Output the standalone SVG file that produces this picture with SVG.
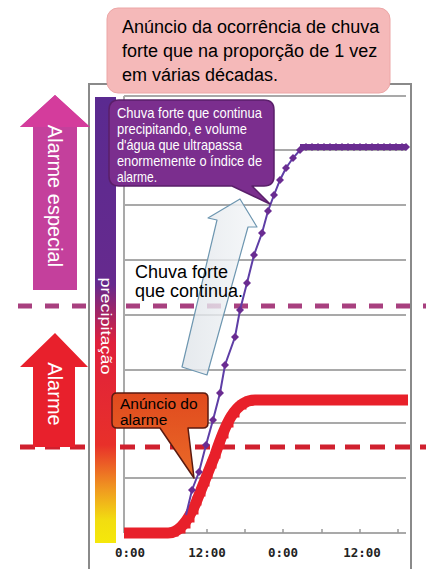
<svg xmlns="http://www.w3.org/2000/svg" width="430" height="569" viewBox="0 0 430 569">
<defs>
<linearGradient id="precipGrad" x1="0" y1="97" x2="0" y2="543" gradientUnits="userSpaceOnUse">
<stop offset="0" stop-color="#5a2a90"/>
<stop offset="0.42" stop-color="#662a8e"/>
<stop offset="0.55" stop-color="#e0203c"/>
<stop offset="0.78" stop-color="#e8302a"/>
<stop offset="0.88" stop-color="#f09a20"/>
<stop offset="0.95" stop-color="#f2de10"/>
<stop offset="1" stop-color="#f5e80a"/>
</linearGradient>
<linearGradient id="grayArrowGrad" x1="0" y1="0" x2="1" y2="0">
<stop offset="0" stop-color="#dfe4e9"/>
<stop offset="1" stop-color="#f4f6f8"/>
</linearGradient>
<linearGradient id="orangeGrad" x1="0" y1="0" x2="0" y2="1">
<stop offset="0" stop-color="#e04a1e"/>
<stop offset="1" stop-color="#ea6a28"/>
</linearGradient>
<g id="dia"><path d="M0,-4 L4,0 L0,4 L-4,0 Z" fill="#6a2c91"/></g>
<rect id="sq" x="-4.5" y="-4.5" width="9" height="9" fill="#e8202a"/>
</defs>
<style>
.grid{stroke:#a9a9a9;stroke-width:2;fill:none}
.frame{stroke:#8a8a8a;stroke-width:2;fill:none}
.axis{font-family:"DejaVu Sans Mono","Liberation Mono",monospace;font-size:12.5px;font-weight:bold;fill:#222;text-anchor:middle}
.wt{font-family:"Liberation Sans",Arial,sans-serif;fill:#fff}
.bk{font-family:"Liberation Sans",Arial,sans-serif;fill:#000}
</style>
<rect width="430" height="569" fill="#fff"/>

<g id="chart-frame">
<path class="frame" d="M89,569 V84 H411 V569"/>
<path class="grid" d="M124,96 V533" stroke="#b0b0b0"/>
<path class="grid" d="M124,96 H406 M124,150 H406 M124,205 H406 M124,260 H406 M124,315 H406 M124,370 H406 M124,423 H406 M124,478 H406 M124,533 H406"/>
<path d="M168,533 v-4 M207,533 v-4 M245,533 v-4 M283,533 v-4 M322,533 v-4 M360,533 v-4 M398,533 v-4" stroke="#999" stroke-width="1.5"/>
<text class="axis" x="130" y="557">0:00</text>
<text class="axis" x="207" y="557">12:00</text>
<text class="axis" x="283" y="557">0:00</text>
<text class="axis" x="362" y="557">12:00</text>
</g>

<g id="threshold-lines">
<path d="M18,306 H426" stroke="#a8407f" stroke-width="5" stroke-dasharray="14 13"/>
<path d="M20,447 H426" stroke="#d0202e" stroke-width="5" stroke-dasharray="15 10"/>
</g>

<g id="precipitation-bar">
<rect x="95" y="97" width="21" height="446" fill="url(#precipGrad)"/>
<text class="wt" transform="translate(106,326) rotate(90)" text-anchor="middle" dy="0.35em" font-size="15" textLength="97" lengthAdjust="spacingAndGlyphs">precipitação</text>
</g>

<g id="alarme-especial-arrow">
<path d="M55,95 L90,127 L77,127 V290 H33 V127 L20,127 Z" fill="#c4409c"/>
<path d="M55,95 L90,127 L20,127 Z" fill="#d43c9c"/>
<text class="wt" transform="translate(55,196) rotate(90)" text-anchor="middle" dy="0.35em" font-size="20">Alarme especial</text>
</g>

<g id="alarme-arrow">
<path d="M55,333 L88,367 L75,367 V447 H33 V367 L20,367 Z" fill="#e8202c"/>
<text class="wt" transform="translate(55,394) rotate(90)" text-anchor="middle" dy="0.35em" font-size="20">Alarme</text>
</g>

<g id="connectors">
<g id="red-curve">
<path d="M124,533 L168,533 C180,533 188,520 195,505 L215,455 C225,425 235,400 255,400 L408,400" fill="none" stroke="#e8202a" stroke-width="11"/>
<use href="#sq" x="174" y="532"/><use href="#sq" x="181" y="529"/><use href="#sq" x="186" y="524"/><use href="#sq" x="190" y="518"/><use href="#sq" x="194" y="510"/><use href="#sq" x="197" y="501"/><use href="#sq" x="201" y="492"/><use href="#sq" x="205" y="482"/><use href="#sq" x="208" y="474"/><use href="#sq" x="212" y="464"/><use href="#sq" x="216" y="454"/><use href="#sq" x="220" y="444"/><use href="#sq" x="224" y="434"/><use href="#sq" x="229" y="423"/><use href="#sq" x="235" y="413"/><use href="#sq" x="242" y="405"/><use href="#sq" x="249" y="401"/>
</g>
<g id="purple-curve">
<polyline points="186,515 192,490 199,472 206,445 213,420 220,393 225,365 235,337 240,310 247,283 254,255 262,233 268,211 274,195 280,180 286,168 293,158 300,150 306,147 406,147" fill="none" stroke="#5e3ea6" stroke-width="2"/>
<path d="M300,147 H406" stroke="#6a2c91" stroke-width="6"/>
<use href="#dia" x="192" y="490"/><use href="#dia" x="199" y="472"/><use href="#dia" x="206" y="445"/><use href="#dia" x="213" y="420"/><use href="#dia" x="220" y="393"/><use href="#dia" x="225" y="365"/><use href="#dia" x="235" y="337"/><use href="#dia" x="240" y="310"/><use href="#dia" x="247" y="283"/><use href="#dia" x="254" y="255"/><use href="#dia" x="262" y="233"/><use href="#dia" x="268" y="211"/><use href="#dia" x="274" y="195"/><use href="#dia" x="280" y="180"/><use href="#dia" x="286" y="168"/><use href="#dia" x="293" y="158"/><use href="#dia" x="300" y="150"/>
<use href="#dia" x="306" y="147"/><use href="#dia" x="312" y="147"/><use href="#dia" x="318" y="147"/><use href="#dia" x="324" y="147"/><use href="#dia" x="330" y="147"/><use href="#dia" x="336" y="147"/><use href="#dia" x="342" y="147"/><use href="#dia" x="348" y="147"/><use href="#dia" x="354" y="147"/><use href="#dia" x="360" y="147"/><use href="#dia" x="366" y="147"/><use href="#dia" x="372" y="147"/><use href="#dia" x="378" y="147"/><use href="#dia" x="384" y="147"/><use href="#dia" x="390" y="147"/><use href="#dia" x="396" y="147"/><use href="#dia" x="402" y="147"/><use href="#dia" x="406" y="147"/>
</g>
</g>

<g id="chuva-forte-arrow">
<path d="M240,199 L257,227 L248,227 L207,375 L182,367 L217,220 L208,218 Z" fill="url(#grayArrowGrad)" fill-opacity="0.8" stroke="#6d96b0" stroke-width="1.2" stroke-linejoin="round"/>
<text class="bk" font-size="18"><tspan x="135" y="278">Chuva forte</tspan><tspan x="135" y="297">que continua.</tspan></text>
</g>

<g id="anuncio-alarme-callout">
<path d="M117,393 H203 Q208,393 208,398 V423 Q208,428 203,428 H188 L194,478 L160,428 H117 Q112,428 112,423 V398 Q112,393 117,393 Z" fill="url(#orangeGrad)" stroke="#5a1a10" stroke-width="1.5" stroke-linejoin="round"/>
<text class="bk" font-size="15.5"><tspan x="120" y="409">Anúncio do</tspan><tspan x="120" y="425">alarme</tspan></text>
</g>

<g id="purple-callout">
<path d="M119,100 H264 Q274,100 274,110 V176 Q274,186 264,186 H252 L270,204 L232,186 H119 Q109,186 109,176 V110 Q109,100 119,100 Z" fill="#7b2e8e" stroke="#5a1f6a" stroke-width="1.5" stroke-linejoin="round"/>
<text class="wt" font-size="14.5"><tspan x="117" y="118" textLength="145" lengthAdjust="spacingAndGlyphs">Chuva forte que continua</tspan></text>
<text class="wt" font-size="14.5"><tspan x="117" y="134" textLength="130" lengthAdjust="spacingAndGlyphs">precipitando, e volume</tspan></text>
<text class="wt" font-size="14.5"><tspan x="117" y="150" textLength="125" lengthAdjust="spacingAndGlyphs">d'água que ultrapassa</tspan></text>
<text class="wt" font-size="14.5"><tspan x="117" y="166" textLength="145" lengthAdjust="spacingAndGlyphs">enormemente o índice de</tspan></text>
<text class="wt" font-size="14.5"><tspan x="117" y="182" textLength="40" lengthAdjust="spacingAndGlyphs">alarme.</tspan></text>
</g>

<g id="title-callout">
<rect x="107" y="8" width="283" height="85" rx="11" fill="#f5b9b9" stroke="#eca6a6" stroke-width="1"/>
<text class="bk" font-size="18"><tspan x="122" y="33">Anúncio da ocorrência de chuva</tspan><tspan x="122" y="57">forte que na proporção de 1 vez</tspan><tspan x="122" y="81">em várias décadas.</tspan></text>
</g>
</svg>
